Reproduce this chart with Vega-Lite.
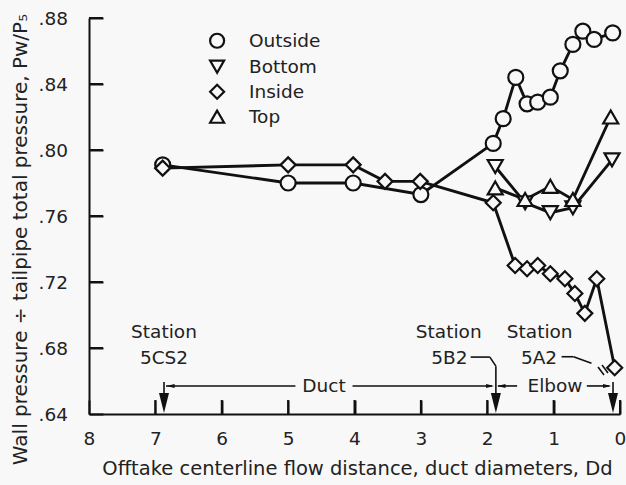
{
  "$schema": "https://vega.github.io/schema/vega-lite/v6.json",
  "width": 531,
  "height": 396,
  "autosize": {"type": "none"},
  "padding": {"left": 89, "top": 18, "right": 6, "bottom": 71},
  "background": "#f8f8f8",
  "config": {"view": {"stroke": null}, "font": "DejaVu Sans"},
  "datasets": {
    "pressure": [
      {"series": "Outside", "distance": 6.89, "ratio": 0.791},
      {"series": "Outside", "distance": 5.0, "ratio": 0.780},
      {"series": "Outside", "distance": 4.02, "ratio": 0.780},
      {"series": "Outside", "distance": 3.0, "ratio": 0.773},
      {"series": "Outside", "distance": 1.91, "ratio": 0.804},
      {"series": "Outside", "distance": 1.76, "ratio": 0.819},
      {"series": "Outside", "distance": 1.57, "ratio": 0.844},
      {"series": "Outside", "distance": 1.40, "ratio": 0.828},
      {"series": "Outside", "distance": 1.24, "ratio": 0.829},
      {"series": "Outside", "distance": 1.05, "ratio": 0.832},
      {"series": "Outside", "distance": 0.90, "ratio": 0.848},
      {"series": "Outside", "distance": 0.71, "ratio": 0.864},
      {"series": "Outside", "distance": 0.56, "ratio": 0.872},
      {"series": "Outside", "distance": 0.39, "ratio": 0.867},
      {"series": "Outside", "distance": 0.11, "ratio": 0.871},
      {"series": "Inside", "distance": 6.89, "ratio": 0.789},
      {"series": "Inside", "distance": 5.0, "ratio": 0.791},
      {"series": "Inside", "distance": 4.02, "ratio": 0.791},
      {"series": "Inside", "distance": 3.54, "ratio": 0.781},
      {"series": "Inside", "distance": 3.01, "ratio": 0.781},
      {"series": "Inside", "distance": 1.91, "ratio": 0.768},
      {"series": "Inside", "distance": 1.58, "ratio": 0.730},
      {"series": "Inside", "distance": 1.40, "ratio": 0.728},
      {"series": "Inside", "distance": 1.24, "ratio": 0.730},
      {"series": "Inside", "distance": 1.05, "ratio": 0.725},
      {"series": "Inside", "distance": 0.83, "ratio": 0.722},
      {"series": "Inside", "distance": 0.68, "ratio": 0.713},
      {"series": "Inside", "distance": 0.53, "ratio": 0.701},
      {"series": "Inside", "distance": 0.35, "ratio": 0.722},
      {"series": "Inside", "distance": 0.08, "ratio": 0.668},
      {"series": "Bottom", "distance": 1.88, "ratio": 0.790},
      {"series": "Bottom", "distance": 1.43, "ratio": 0.768},
      {"series": "Bottom", "distance": 1.05, "ratio": 0.762},
      {"series": "Bottom", "distance": 0.71, "ratio": 0.765},
      {"series": "Bottom", "distance": 0.12, "ratio": 0.794},
      {"series": "Top", "distance": 1.88, "ratio": 0.777},
      {"series": "Top", "distance": 1.43, "ratio": 0.770},
      {"series": "Top", "distance": 1.05, "ratio": 0.778},
      {"series": "Top", "distance": 0.71, "ratio": 0.770},
      {"series": "Top", "distance": 0.14, "ratio": 0.820}
    ],
    "key": [
      {"series": "Outside", "distance": 6.07, "labelDistance": 5.59, "ratio": 0.8662},
      {"series": "Bottom", "distance": 6.07, "labelDistance": 5.59, "ratio": 0.8505},
      {"series": "Inside", "distance": 6.07, "labelDistance": 5.59, "ratio": 0.8353},
      {"series": "Top", "distance": 6.07, "labelDistance": 5.59, "ratio": 0.8202}
    ],
    "xticks": [
      {"distance": 0, "ratio": 0.64, "ratio2": 0.6485},
      {"distance": 1, "ratio": 0.64, "ratio2": 0.6485},
      {"distance": 2, "ratio": 0.64, "ratio2": 0.6485},
      {"distance": 3, "ratio": 0.64, "ratio2": 0.6485},
      {"distance": 4, "ratio": 0.64, "ratio2": 0.6485},
      {"distance": 5, "ratio": 0.64, "ratio2": 0.6485},
      {"distance": 6, "ratio": 0.64, "ratio2": 0.6485},
      {"distance": 7, "ratio": 0.64, "ratio2": 0.6485}
    ],
    "yticks": [
      {"ratio": 0.68, "distance": 8, "distance2": 7.79},
      {"ratio": 0.72, "distance": 8, "distance2": 7.79},
      {"ratio": 0.76, "distance": 8, "distance2": 7.79},
      {"ratio": 0.80, "distance": 8, "distance2": 7.79},
      {"ratio": 0.84, "distance": 8, "distance2": 7.79},
      {"ratio": 0.88, "distance": 8, "distance2": 7.79}
    ],
    "leaders": [
      {"distance": 6.87, "ratio": 0.6594, "distance2": 6.87, "ratio2": 0.650},
      {"distance": 6.84, "ratio": 0.657, "distance2": 4.89, "ratio2": 0.657},
      {"distance": 4.03, "ratio": 0.657, "distance2": 1.93, "ratio2": 0.657},
      {"distance": 2.25, "ratio": 0.6745, "distance2": 1.96, "ratio2": 0.6745},
      {"distance": 1.96, "ratio": 0.6745, "distance2": 1.87, "ratio2": 0.669},
      {"distance": 1.87, "ratio": 0.669, "distance2": 1.87, "ratio2": 0.650},
      {"distance": 1.84, "ratio": 0.657, "distance2": 1.55, "ratio2": 0.657},
      {"distance": 0.50, "ratio": 0.657, "distance2": 0.16, "ratio2": 0.657},
      {"distance": 0.88, "ratio": 0.6747, "distance2": 0.70, "ratio2": 0.6747},
      {"distance": 0.70, "ratio": 0.6747, "distance2": 0.43, "ratio2": 0.6707},
      {"distance": 0.331, "ratio": 0.6685, "distance2": 0.241, "ratio2": 0.6636},
      {"distance": 0.271, "ratio": 0.6697, "distance2": 0.181, "ratio2": 0.6648},
      {"distance": 0.105, "ratio": 0.6594, "distance2": 0.105, "ratio2": 0.650}
    ],
    "arrowheads": [
      {"distance": 6.87, "ratio": 0.6467, "direction": "down"},
      {"distance": 1.87, "ratio": 0.6467, "direction": "down"},
      {"distance": 0.105, "ratio": 0.6467, "direction": "down"},
      {"distance": 6.77, "ratio": 0.657, "direction": "left"},
      {"distance": 1.958, "ratio": 0.657, "direction": "right"},
      {"distance": 1.785, "ratio": 0.657, "direction": "left"},
      {"distance": 0.196, "ratio": 0.657, "direction": "right"}
    ],
    "labels": [
      {"distance": 6.87, "ratio": 0.6897, "label": "Station"},
      {"distance": 6.87, "ratio": 0.674, "label": "5CS2"},
      {"distance": 2.58, "ratio": 0.6897, "label": "Station"},
      {"distance": 2.57, "ratio": 0.674, "label": "5B2"},
      {"distance": 1.21, "ratio": 0.6897, "label": "Station"},
      {"distance": 1.22, "ratio": 0.674, "label": "5A2"},
      {"distance": 4.46, "ratio": 0.657, "label": "Duct"},
      {"distance": 0.98, "ratio": 0.657, "label": "Elbow"}
    ]
  },
  "layer": [
    {
      "data": {"name": "pressure"},
      "mark": {"type": "line", "color": "#111", "strokeWidth": 2.9},
      "encoding": {
        "x": {
          "field": "distance", "type": "quantitative",
          "scale": {"domain": [0, 8], "reverse": true, "nice": false, "zero": false},
          "title": "Offtake centerline flow distance, duct diameters, Dd",
          "axis": {
            "values": [0, 1, 2, 3, 4, 5, 6, 7, 8], "format": "d",
            "grid": false, "tickSize": -14, "tickWidth": 2, "tickColor": "#111",
            "domainWidth": 2, "domainColor": "#111",
            "labelPadding": 29, "labelFlush": false, "labelOverlap": false,
            "labelFont": "DejaVu Sans", "labelFontSize": 18.5, "labelColor": "#222",
            "titleFont": "DejaVu Sans", "titleFontSize": 19.5, "titleFontWeight": "normal", "titleColor": "#222",
            "titleX": 268, "titleY": 54, "titleBaseline": "middle", "titleAlign": "center"
          }
        },
        "y": {
          "field": "ratio", "type": "quantitative",
          "scale": {"domain": [0.64, 0.88], "nice": false, "zero": false},
          "title": "Wall pressure ÷ tailpipe total pressure, Pw/P₅",
          "axis": {
            "values": [0.64, 0.68, 0.72, 0.76, 0.80, 0.84, 0.88],
            "labelExpr": "substring(format(datum.value, '.2f'), 1)",
            "grid": false, "tickSize": -14, "tickWidth": 2, "tickColor": "#111",
            "domainWidth": 2, "domainColor": "#111",
            "labelPadding": 35.5, "labelOverlap": false,
            "labelFont": "DejaVu Sans", "labelFontSize": 18.5, "labelColor": "#222",
            "titleFont": "DejaVu Sans", "titleFontSize": 20, "titleFontWeight": "normal", "titleColor": "#222",
            "titleX": -69, "titleY": 221, "titleBaseline": "middle", "titleAlign": "center", "titleAngle": -90
          }
        },
        "detail": {"field": "series"},
        "order": {"field": "distance", "type": "quantitative"}
      }
    },
    {
      "data": {"name": "xticks"},
      "mark": {"type": "rule", "color": "#111", "strokeWidth": 2},
      "encoding": {
        "x": {"field": "distance", "type": "quantitative"},
        "y": {"field": "ratio", "type": "quantitative"},
        "y2": {"field": "ratio2"}
      }
    },
    {
      "data": {"name": "yticks"},
      "mark": {"type": "rule", "color": "#111", "strokeWidth": 2},
      "encoding": {
        "x": {"field": "distance", "type": "quantitative"},
        "x2": {"field": "distance2"},
        "y": {"field": "ratio", "type": "quantitative"}
      }
    },
    {
      "data": {"name": "pressure"},
      "mark": {"type": "point", "filled": false, "stroke": "#111", "fill": "#f8f8f8", "strokeWidth": 2.2, "size": 225, "opacity": 1},
      "encoding": {
        "x": {"field": "distance", "type": "quantitative"},
        "y": {"field": "ratio", "type": "quantitative"},
        "shape": {
          "field": "series", "type": "nominal",
          "scale": {"domain": ["Outside", "Bottom", "Inside", "Top"], "range": ["circle", "triangle-down", "diamond", "triangle-up"]},
          "legend": null
        }
      }
    },
    {
      "data": {"name": "key"},
      "mark": {"type": "point", "filled": false, "stroke": "#111", "fill": "#f8f8f8", "strokeWidth": 2.2, "size": 196, "opacity": 1},
      "encoding": {
        "x": {"field": "distance", "type": "quantitative"},
        "y": {"field": "ratio", "type": "quantitative"},
        "shape": {"field": "series", "type": "nominal", "legend": null}
      }
    },
    {
      "data": {"name": "key"},
      "mark": {"type": "text", "font": "DejaVu Sans", "fontSize": 18.5, "color": "#222", "align": "left", "baseline": "middle"},
      "encoding": {
        "x": {"field": "labelDistance", "type": "quantitative"},
        "y": {"field": "ratio", "type": "quantitative"},
        "text": {"field": "series"}
      }
    },
    {
      "data": {"name": "leaders"},
      "mark": {"type": "rule", "color": "#111", "strokeWidth": 1.6},
      "encoding": {
        "x": {"field": "distance", "type": "quantitative"},
        "y": {"field": "ratio", "type": "quantitative"},
        "x2": {"field": "distance2"},
        "y2": {"field": "ratio2"}
      }
    },
    {
      "data": {"name": "arrowheads"},
      "transform": [{"filter": "datum.direction === 'down'"}],
      "mark": {"type": "point", "filled": true, "color": "#111", "opacity": 1, "shape": "M-0.5,-1L0.5,-1L0,1Z", "size": 400},
      "encoding": {
        "x": {"field": "distance", "type": "quantitative"},
        "y": {"field": "ratio", "type": "quantitative"}
      }
    },
    {
      "data": {"name": "arrowheads"},
      "transform": [{"filter": "datum.direction === 'left'"}],
      "mark": {"type": "point", "filled": true, "color": "#111", "opacity": 1, "shape": "M1,-0.5L1,0.5L-1,0Z", "size": 64},
      "encoding": {
        "x": {"field": "distance", "type": "quantitative"},
        "y": {"field": "ratio", "type": "quantitative"}
      }
    },
    {
      "data": {"name": "arrowheads"},
      "transform": [{"filter": "datum.direction === 'right'"}],
      "mark": {"type": "point", "filled": true, "color": "#111", "opacity": 1, "shape": "M-1,-0.5L-1,0.5L1,0Z", "size": 64},
      "encoding": {
        "x": {"field": "distance", "type": "quantitative"},
        "y": {"field": "ratio", "type": "quantitative"}
      }
    },
    {
      "data": {"name": "labels"},
      "mark": {"type": "text", "font": "DejaVu Sans", "fontSize": 18.5, "color": "#222", "align": "center", "baseline": "middle"},
      "encoding": {
        "x": {"field": "distance", "type": "quantitative"},
        "y": {"field": "ratio", "type": "quantitative"},
        "text": {"field": "label"}
      }
    }
  ]
}
